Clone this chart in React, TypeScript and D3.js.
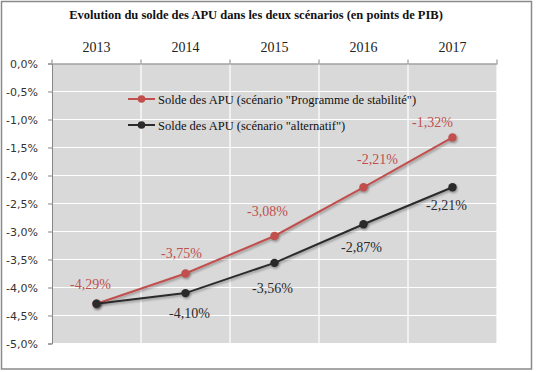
import { useEffect, useRef } from 'react'
import * as d3 from 'd3'

const years = ['2013', '2014', '2015', '2016', '2017']
const stabiliteValues = [-4.29, -3.75, -3.08, -2.21, -1.32]
const alternatifValues = [-4.29, -4.10, -3.56, -2.87, -2.21]
const yTicks = [0, -0.5, -1, -1.5, -2, -2.5, -3, -3.5, -4, -4.5, -5]
const seriesNames = [
  'Solde des APU (scénario "Programme de stabilité")',
  'Solde des APU (scénario "alternatif")',
]
const title = 'Evolution du solde des APU dans les deux scénarios (en points de PIB)'

// label placement relative to each point (dx from point centre, dy to baseline)
const redLabelOffsets = [[-6, -15], [-4, -16], [-7, -20], [14, -23], [-20, -10]]
const blackLabelOffsets = [null, [4, 25], [-2, 30], [-2, 28], [-6, 23]]

const RED = '#c0504d'
const BLACK = '#2b2b2b'
const SERIF = '"Liberation Serif", "Times New Roman", serif'
const SANS = '"DejaVu Sans", Verdana, sans-serif'

const fmt = (v: number) => v.toFixed(2).replace('.', ',') + '%'

export default function App() {
  const svgRef = useRef<SVGSVGElement>(null)

  useEffect(() => {
    const svgEl = svgRef.current
    if (!svgEl) return
    const width = 536
    const height = 372
    const svg = d3.select(svgEl)
    svg.attr('width', width).attr('height', height).selectAll('*').remove()

    const left = 52
    const right = 497
    const top = 63.5
    const bottom = 343.5

    const x = d3.scaleBand<string>().domain(years).range([left, right])
    const y = d3.scaleLinear().domain([-5, 0]).range([bottom, top])
    const cx = (d: string) => (x(d) ?? 0) + x.bandwidth() / 2

    const defs = svg.append('defs')
    const f = defs.append('filter').attr('id', 'shadow').attr('x', '-50%').attr('y', '-50%').attr('width', '200%').attr('height', '200%')
    f.append('feDropShadow').attr('dx', 1).attr('dy', 1.5).attr('stdDeviation', 1.2).attr('flood-color', '#000').attr('flood-opacity', 0.35)

    svg.append('rect').attr('width', width).attr('height', height).attr('fill', '#fff')

    // outer frame
    svg.append('rect')
      .attr('x', 1.5).attr('y', 1.5).attr('width', 530).attr('height', 367.5)
      .attr('fill', 'none').attr('stroke', '#8a8a8a').attr('stroke-width', 1.5)

    // title
    svg.append('text')
      .attr('x', 256).attr('y', 19)
      .attr('text-anchor', 'middle')
      .style('font-family', SERIF).style('font-weight', 'bold').style('font-size', '12.5px')
      .style('fill', '#111')
      .text(title)

    // plot area
    svg.append('rect')
      .attr('x', left).attr('y', top).attr('width', right - left).attr('height', bottom - top)
      .attr('fill', '#d9d9d9')

    // gridlines
    const g = svg.append('g')
    g.selectAll('line.h').data(yTicks.slice(1)).enter().append('line')
      .attr('x1', left).attr('x2', right)
      .attr('y1', d => y(d)).attr('y2', d => y(d))
      .attr('stroke', '#fff').attr('stroke-width', 1.2)
    const bounds = years.map(d => x(d) ?? 0).slice(1).concat([right])
    g.selectAll('line.v').data(bounds).enter().append('line')
      .attr('x1', d => d).attr('x2', d => d)
      .attr('y1', top).attr('y2', bottom)
      .attr('stroke', '#fff').attr('stroke-width', 1.2)

    // top axis
    const topAxis = svg.append('g').attr('transform', `translate(0,${top})`)
      .call(d3.axisTop(x).tickSize(0).tickPadding(12))
    topAxis.select('.domain').attr('stroke', '#868686')
    topAxis.selectAll('text')
      .style('font-family', SERIF).style('font-size', '14px').style('fill', '#222')
    svg.append('g').selectAll('line').data([left, ...bounds]).enter().append('line')
      .attr('x1', d => d).attr('x2', d => d).attr('y1', top - 4).attr('y2', top)
      .attr('stroke', '#868686')

    // left axis
    const leftAxis = svg.append('g').attr('transform', `translate(${left},0)`)
      .call(d3.axisLeft(y).tickValues(yTicks).tickSize(4).tickPadding(10)
        .tickFormat(d => (+d).toFixed(1).replace('.', ',') + '%'))
    leftAxis.select('.domain').attr('stroke', '#868686')
    leftAxis.selectAll('.tick line').attr('stroke', '#868686')
    leftAxis.selectAll('text')
      .style('font-family', SANS).style('font-size', '11px').style('fill', '#333')

    const line = d3.line<number>()
      .x((_, i) => cx(years[i]))
      .y(d => y(d))

    const drawSeries = (vals: number[], color: string) => {
      svg.append('path').datum(vals)
        .attr('fill', 'none').attr('stroke', color).attr('stroke-width', 2)
        .attr('d', line).attr('filter', 'url(#shadow)')
      svg.append('g').selectAll('circle').data(vals).enter().append('circle')
        .attr('cx', (_, i) => cx(years[i])).attr('cy', d => y(d)).attr('r', 4.2)
        .attr('fill', color).attr('filter', 'url(#shadow)')
    }
    drawSeries(stabiliteValues, RED)
    drawSeries(alternatifValues, BLACK)

    const drawLabels = (vals: number[], offsets: (number[] | null)[], color: string) => {
      const items = vals.map((v, i) => ({ v, i, o: offsets[i] })).filter(d => d.o)
      svg.append('g').selectAll('text').data(items).enter().append('text')
        .attr('x', d => cx(years[d.i]) + d.o![0])
        .attr('y', d => y(d.v) + d.o![1])
        .attr('text-anchor', 'middle')
        .style('font-family', SERIF).style('font-size', '14px').style('fill', color)
        .text(d => fmt(d.v))
    }
    drawLabels(stabiliteValues, redLabelOffsets, RED)
    drawLabels(alternatifValues, blackLabelOffsets, BLACK)

    // legend
    const legend = svg.append('g')
    const colors = [RED, BLACK]
    seriesNames.forEach((name, i) => {
      const ly = 99 + i * 26
      legend.append('line').attr('x1', 128).attr('x2', 155).attr('y1', ly).attr('y2', ly)
        .attr('stroke', colors[i]).attr('stroke-width', 2)
      legend.append('circle').attr('cx', 141.5).attr('cy', ly).attr('r', 3.8).attr('fill', colors[i])
      legend.append('text').attr('x', 158).attr('y', ly + 4.5)
        .style('font-family', SERIF).style('font-size', '12.5px').style('fill', '#111')
        .text(name)
    })
  }, [])

  return (
    <div style={{ position: 'fixed', left: 0, top: 0 }}>
      <svg ref={svgRef} style={{ display: 'block' }} />
    </div>
  )
}
